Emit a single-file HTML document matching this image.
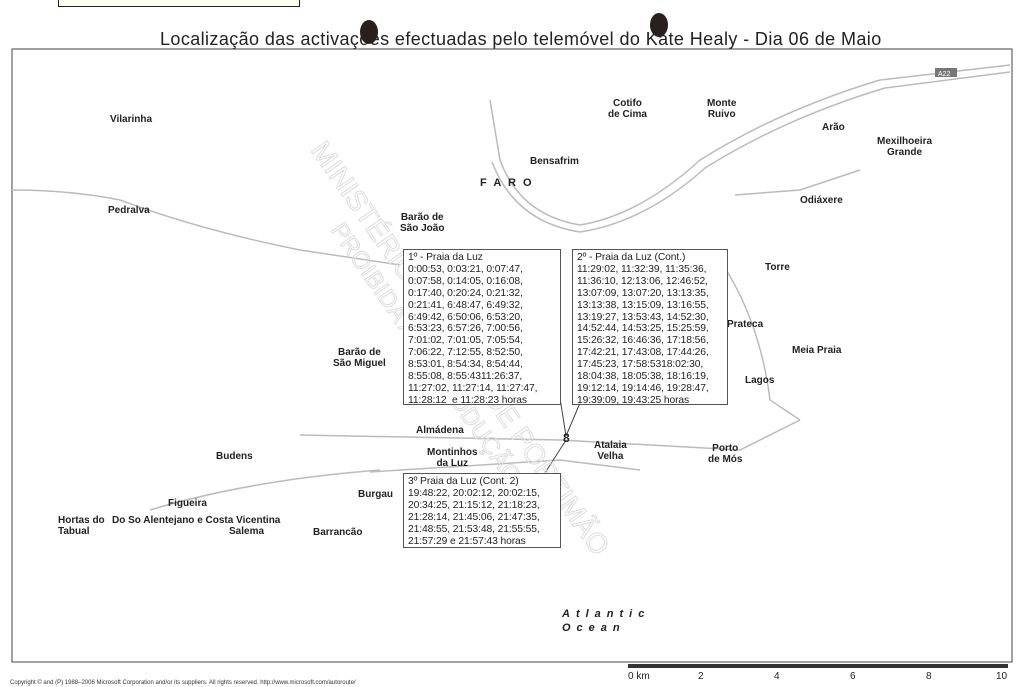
<!DOCTYPE html>
<html><head><meta charset="utf-8"><style>
html,body{margin:0;padding:0;background:#fff;}
body{width:1023px;height:687px;position:relative;overflow:hidden;font-family:"Liberation Sans",sans-serif;}
.box{position:absolute;background:#fff;border:1px solid #555;font-size:10.3px;line-height:11.9px;color:#222;padding:2px 4px;white-space:pre;letter-spacing:-0.1px}
.l{position:absolute;font-size:10px;font-weight:bold;color:#222;line-height:11px;text-align:center}
</style></head><body>
<div style="position:absolute;left:58px;top:-2px;width:240px;height:8px;border:1px solid #222;border-top:none;background:#fffff0"></div>
<div style="position:absolute;left:160px;top:29px;font-size:18px;color:#222;letter-spacing:0.4px">Localização das activações efectuadas pelo telemóvel do Kate Healy - Dia 06 de Maio</div>
<div style="position:absolute;left:360px;top:20px;width:18px;height:24px;border-radius:50%;background:#2a1f1f"></div>
<div style="position:absolute;left:650px;top:13px;width:18px;height:24px;border-radius:50%;background:#2a1f1f"></div>
<svg width="1023" height="687" style="position:absolute;left:0;top:0">
<rect x="12" y="49" width="1000" height="613" fill="none" stroke="#444" stroke-width="1"/>
<g fill="none" stroke="#bbb" stroke-width="1.5">
<path d="M500 160 Q520 215 580 225 Q640 215 700 160 Q780 110 880 80 L1010 65"/>
<path d="M492 162 Q515 222 580 232 Q645 222 705 168 Q785 118 885 88 L1010 72"/>
<path d="M12 190 Q70 190 120 200 Q200 230 300 250 L400 265"/>
<path d="M300 435 L560 440 L740 450 L800 420"/>
<path d="M370 472 L560 460 L640 470"/>
<path d="M150 510 Q250 480 380 470"/>
<path d="M720 260 Q760 320 770 400 L800 420"/>
<path d="M735 195 L800 190 L860 170"/>
<path d="M490 100 L500 160"/>
</g>
<g stroke="#444" stroke-width="1"><line x1="560" y1="398" x2="566" y2="436"/><line x1="580" y1="403" x2="566" y2="436"/><line x1="545" y1="473" x2="566" y2="440"/></g>
<text x="563" y="442" font-size="12" font-weight="bold" fill="#222">8</text>
<g font-family="Liberation Sans" font-size="28" fill="none" stroke="#ddd" stroke-width="1">
<text transform="translate(310,150) rotate(55)">MINISTÉRIO PÚBLICO DE PORTIMÃO</text>
<text transform="translate(330,230) rotate(55)" font-size="24">PROIBIDA A REPRODUÇÃO</text>
</g>
<g font-size="11" font-weight="bold" fill="#222" font-family="Liberation Sans" letter-spacing="2">
<text x="480" y="186">F A R O</text>
<text x="562" y="617" font-style="italic" letter-spacing="6">Atlantic</text>
<text x="562" y="631" font-style="italic" letter-spacing="6">Ocean</text>
</g>
<rect x="628" y="664" width="380" height="4" fill="#333"/>
<g font-size="10" fill="#222"><text x="628" y="679">0 km</text><text x="698" y="679">2</text><text x="774" y="679">4</text><text x="850" y="679">6</text><text x="926" y="679">8</text><text x="996" y="679">10</text></g>
<text x="10" y="684" font-size="6" fill="#333">Copyright © and (P) 1988–2006 Microsoft Corporation and/or its suppliers. All rights reserved. http://www.microsoft.com/autoroute/</text>
<rect x="935" y="68" width="22" height="9" fill="#777"/><text x="938" y="76" font-size="7" fill="#fff">A22</text>
</svg>
<div class="l" style="left:110px;top:114px">Vilarinha</div>
<div class="l" style="left:108px;top:205px">Pedralva</div>
<div class="l" style="left:608px;top:98px">Cotifo<br>de Cima</div>
<div class="l" style="left:707px;top:98px">Monte<br>Ruivo</div>
<div class="l" style="left:822px;top:122px">Arão</div>
<div class="l" style="left:877px;top:136px">Mexilhoeira<br>Grande</div>
<div class="l" style="left:530px;top:156px">Bensafrim</div>
<div class="l" style="left:800px;top:195px">Odiáxere</div>
<div class="l" style="left:400px;top:212px">Barão de<br>São João</div>
<div class="l" style="left:765px;top:262px">Torre</div>
<div class="l" style="left:333px;top:347px">Barão de<br>São Miguel</div>
<div class="l" style="left:727px;top:319px">Prateca</div>
<div class="l" style="left:792px;top:345px">Meia Praia</div>
<div class="l" style="left:745px;top:375px">Lagos</div>
<div class="l" style="left:416px;top:425px">Almádena</div>
<div class="l" style="left:594px;top:440px">Atalaia<br>Velha</div>
<div class="l" style="left:708px;top:443px">Porto<br>de Mós</div>
<div class="l" style="left:427px;top:447px">Montinhos<br>da Luz</div>
<div class="l" style="left:216px;top:451px">Budens</div>
<div class="l" style="left:358px;top:489px">Burgau</div>
<div class="l" style="left:168px;top:498px">Figueira</div>
<div class="l" style="left:58px;top:515px;text-align:left">Hortas do<br>Tabual</div>
<div class="l" style="left:112px;top:515px">Do So Alentejano e Costa Vicentina</div>
<div class="l" style="left:229px;top:526px">Salema</div>
<div class="l" style="left:313px;top:527px">Barrancão</div>
<div class="box" style="left:403px;top:249px;width:148px;height:150px">1º - Praia da Luz
0:00:53, 0:03:21, 0:07:47,
0:07:58, 0:14:05, 0:16:08,
0:17:40, 0:20:24, 0:21:32,
0:21:41, 6:48:47, 6:49:32,
6:49:42, 6:50:06, 6:53:20,
6:53:23, 6:57:26, 7:00:56,
7:01:02, 7:01:05, 7:05:54,
7:06:22, 7:12:55, 8:52:50,
8:53:01, 8:54:34, 8:54:44,
8:55:08, 8:55:4311:26:37,
11:27:02, 11:27:14, 11:27:47,
11:28:12  e 11:28:23 horas</div>
<div class="box" style="left:572px;top:249px;width:146px;height:150px">2º - Praia da Luz (Cont.)
11:29:02, 11:32:39, 11:35:36,
11:36:10, 12:13:06, 12:46:52,
13:07:09, 13:07:20, 13:13:35,
13:13:38, 13:15:09, 13:16:55,
13:19:27, 13:53:43, 14:52:30,
14:52:44, 14:53:25, 15:25:59,
15:26:32, 16:46:36, 17:18:56,
17:42:21, 17:43:08, 17:44:26,
17:45:23, 17:58:5318:02:30,
18:04:38, 18:05:38, 18:16:19,
19:12:14, 19:14:46, 19:28:47,
19:39:09, 19:43:25 horas</div>
<div class="box" style="left:403px;top:473px;width:148px;height:69px">3º Praia da Luz (Cont. 2)
19:48:22, 20:02:12, 20:02:15,
20:34:25, 21:15:12, 21:18:23,
21:28:14, 21:45:06, 21:47:35,
21:48:55, 21:53:48, 21:55:55,
21:57:29 e 21:57:43 horas</div>
</body></html>
